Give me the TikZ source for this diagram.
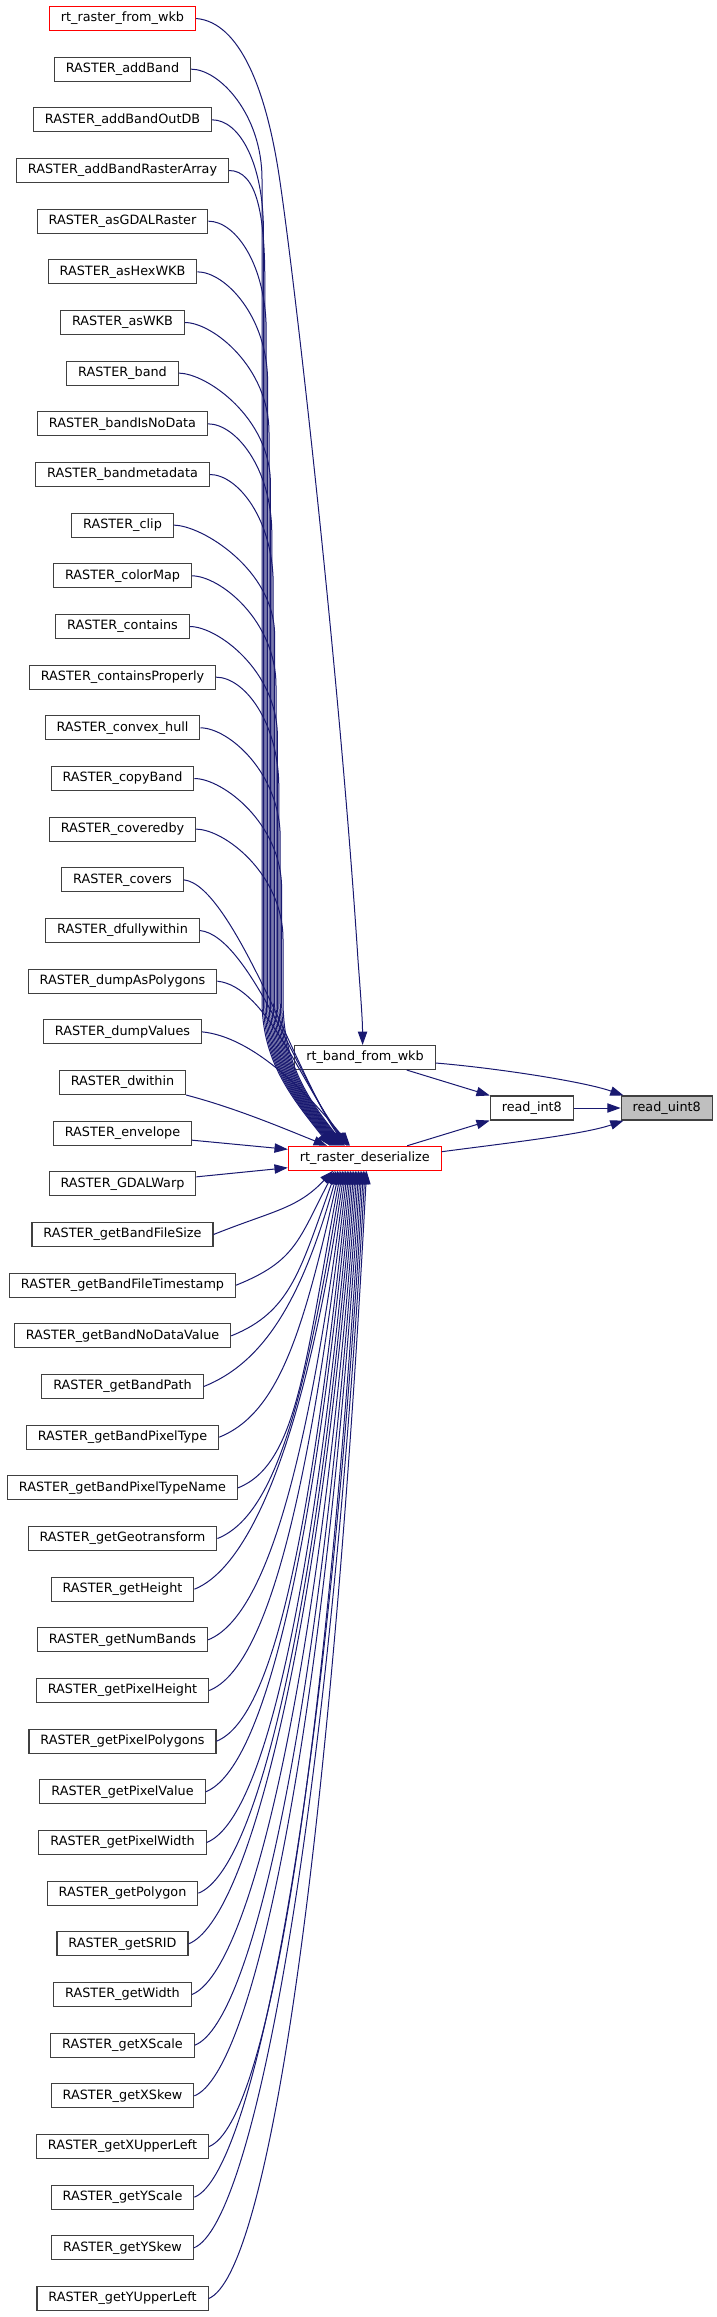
\documentclass[tikz,border=0pt]{standalone}
\usepackage{fontspec}
\setmainfont{DejaVu Sans}
\usetikzlibrary{arrows.meta,calc}
\definecolor{edgeblue}{HTML}{191970}
\definecolor{boxgray}{HTML}{404040}
\definecolor{rootfill}{HTML}{BFBFBF}
\tikzset{
  box/.style={draw=boxgray, line width=0.8pt, fill=white, minimum height=18pt,
    inner xsep=8.6pt, inner ysep=0pt, font=\fontsize{9.6}{11.5}\selectfont, text=black},
  redbox/.style={box, draw=red},
  rootbox/.style={box, fill=rootfill},
  edge/.style={draw=edgeblue, line width=0.75pt, -{Triangle[length=10pt,width=7pt]}},
}
\begin{document}
\begin{tikzpicture}[x=0.75pt,y=-0.75pt]
\useasboundingbox (0,0) rectangle (717,2317);
% left column
\node[redbox] (n1) at (122.5,18.5) {rt\_raster\_from\_wkb};
\foreach \i/\t in {2/RASTER\_addBand,3/RASTER\_addBandOutDB,4/RASTER\_addBandRasterArray,
  5/RASTER\_asGDALRaster,6/RASTER\_asHexWKB,7/RASTER\_asWKB,8/RASTER\_band,
  9/RASTER\_bandIsNoData,10/RASTER\_bandmetadata,11/RASTER\_clip,12/RASTER\_colorMap,
  13/RASTER\_contains,14/RASTER\_containsProperly,15/RASTER\_convex\_hull,
  16/RASTER\_copyBand,17/RASTER\_coveredby,18/RASTER\_covers,19/RASTER\_dfullywithin,
  20/RASTER\_dumpAsPolygons,21/RASTER\_dumpValues,22/RASTER\_dwithin,
  23/RASTER\_envelope,24/RASTER\_GDALWarp,25/RASTER\_getBandFileSize,
  26/RASTER\_getBandFileTimestamp,27/RASTER\_getBandNoDataValue,28/RASTER\_getBandPath,
  29/RASTER\_getBandPixelType,30/RASTER\_getBandPixelTypeName,31/RASTER\_getGeotransform,
  32/RASTER\_getHeight,33/RASTER\_getNumBands,34/RASTER\_getPixelHeight,
  35/RASTER\_getPixelPolygons,36/RASTER\_getPixelValue,37/RASTER\_getPixelWidth,
  38/RASTER\_getPolygon,39/RASTER\_getSRID,40/RASTER\_getWidth,41/RASTER\_getXScale,
  42/RASTER\_getXSkew,43/RASTER\_getXUpperLeft,44/RASTER\_getYScale,45/RASTER\_getYSkew,
  46/RASTER\_getYUpperLeft}
  {\node[box] (n\i) at (122.5,{18.5+(\i-1)*50.667}) {\t};}
% middle / right
\node[box] (rtb) at (365,1057.5) {rt\_band\_from\_wkb};
\node[redbox] (des) at (364.8,1158.3) {rt\_raster\_deserialize};
\node[box] (ri8) at (531.8,1108) {read\_int8};
\node[rootbox] (ru8) at (666.7,1108) {read\_uint8};
% rt_raster_from_wkb -> rt_band_from_wkb
\draw[edge] (n1.east) .. controls (240,22) and (266,90) .. (279,175)
  .. controls (295,280) and (340,680) .. (358,960)
  .. controls (361,1000) and (362.5,1020) .. ($(rtb.north)+(-2.4,0)$);
% upper bundle
\foreach \i in {2,...,17}{
  \pgfmathsetmacro\yy{18.5+(\i-1)*50.667}
  \pgfmathsetmacro\bb{262+(\i-2)*1.4}
  \pgfmathsetmacro\dx{330+(\i-2)*1.0-364.8}
  \draw[edge] (n\i.east) .. controls +(28,0) and (\bb,\yy+45) .. (\bb,\yy+110)
    -- (\bb,1000) .. controls (\bb,1060) and +(-40,-50) .. ($(des.north)+(\dx,0)$);
}
\foreach \i/\dx in {18/-17.8,19/-16.8,20/-15.8,21/-14.8}{
  \draw[edge] (n\i.east) .. controls +(50,5) and +(-45,-56) .. ($(des.north)+(\dx,0)$);
}
\draw[edge] (n22.south east) .. controls +(50,13) and +(-40,-16) .. ($(des.north)+(-37.8,0)$);
% left side
\draw[edge] ($(n23.east)+(0,7)$) -- ($(des.west)+(0,-9)$);
\draw[edge] ($(n24.east)+(0,-7)$) -- ($(des.west)+(0,9.4)$);
% lower fan
\foreach \i in {25,...,46}{
  \pgfmathsetmacro\yy{18.5+(\i-1)*50.667}
  \pgfmathsetmacro\DD{\yy-1171}
  \pgfmathsetmacro\dx{333+(\i-25)*1.6-364.8}
  \draw[edge] (n\i.east) .. controls +(60,-24) and +(-36,{0.6*\DD}) .. ($(des.south)+(\dx,0)$);
}
% right part
\draw[edge] ($(rtb.east)+(0,5.5)$) .. controls +(60,5) and +(-40,-14) .. ($(ru8.north west)+(3,0)$);
\draw[edge] ($(rtb.south east)+(-29,0)$) -- (ri8.north west);
\draw[edge] (ri8.east) -- (ru8.west);
\draw[edge] ($(des.north east)+(-34.6,0)$) -- (ri8.south west);
\draw[edge] ($(des.east)+(0,-6.6)$) .. controls +(60,-8) and +(-40,14) .. ($(ru8.south west)+(3,0)$);
\end{tikzpicture}
\end{document}
